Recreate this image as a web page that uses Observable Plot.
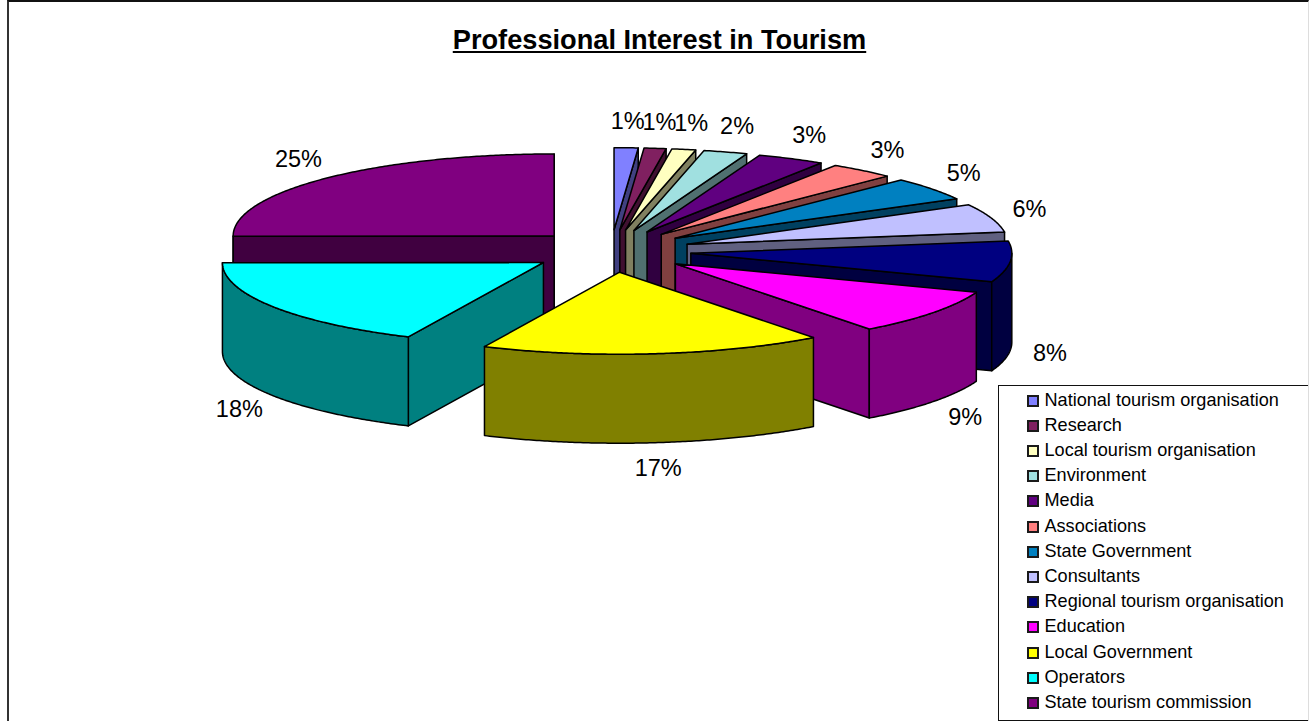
<!DOCTYPE html>
<html>
<head>
<meta charset="utf-8">
<script src="https://cdn.jsdelivr.net/npm/d3@7"></script>
<script src="https://cdn.jsdelivr.net/npm/@observablehq/plot@0.6"></script>
<style>
  html, body { margin: 0; padding: 0; background: #fff; overflow: hidden; }
  #page { position: relative; width: 1309px; height: 721px; font-family: "Liberation Sans", Arial, sans-serif; color: #000; overflow: hidden; }
  #page svg { position: absolute; left: 0; top: 0; display: block; background: transparent; }
  #frame { position: absolute; left: 7px; top: 0; width: 1302px; height: 721px; border-top: 2px solid #111; border-left: 2px solid #333; border-right: 1px solid #ddd; box-sizing: border-box; }
  #title { position: absolute; left: 0; width: 1319px; top: 24px; text-align: center; font-size: 27.2px; line-height: 31px; font-weight: bold; text-decoration: underline; }
  #legend { position: absolute; left: 998px; top: 385px; width: 310px; height: 336px; border: 1.5px solid #111; border-right: none; box-sizing: border-box; background: #fff; }
  .row { position: absolute; left: 0; height: 24px; line-height: 24px; font-size: 18.1px; white-space: nowrap; }
  .row i { position: absolute; left: 28px; top: 7px; width: 8px; height: 8px; border: 2px solid #1a1a1a; }
  .row span { position: absolute; left: 45.5px; }
</style>
</head>
<body>
<div id="page">
  <div id="frame"></div>
  <div id="title"></div>
  <div id="chart"></div>
  <div id="legend"></div>
</div>
<script>
const chartTitle = "Professional Interest in Tourism";
const categories = ["National tourism organisation","Research","Local tourism organisation","Environment","Media","Associations","State Government","Consultants","Regional tourism organisation","Education","Local Government","Operators","State tourism commission"];
const shares = [1.2,1.1,1.2,2.2,3.4,3.3,4.6,5.6,8,9,17.2,18,25];
const topColors = ["#8080FF","#802060","#FFFFC0","#A0E0E0","#600080","#FF8080","#0080C0","#C0C0FF","#000080","#FF00FF","#FFFF00","#00FFFF","#800080"];
const wallColors = ["#404080","#401030","#808060","#507070","#300040","#804040","#004060","#606080","#000040","#800080","#808000","#008080","#400040"];

// Pie layout in pixels, and the same in pie units through the x and y scales
const W = 1309, H = 721, cx = 610.5, cy = 250.5, rx = 321, ry = 82;
const explode = 0.25, depth = 89 / ry, labelGapX = 0.125, labelGapY = 0.32;

const rad = d => d * Math.PI / 180;
const total = d3.sum(shares);
let cum = 0;
const slices = shares.map((v, i) => {
  const a = cum / total * 360; cum += v;
  const b = cum / total * 360;
  const mid = (a + b) / 2;
  return {i, v, a, b, mid, ox: explode * Math.sin(rad(mid)), oy: (explode + 0.01) * Math.cos(rad(mid))};
});

function arcPts(s, from, to, h) {
  const n = Math.max(2, Math.ceil((to - from) * 2));
  return d3.range(n + 1).map(k => {
    const t = rad(from + (to - from) * k / n);
    return [s.ox + Math.sin(t), s.oy + Math.cos(t) - h];
  });
}

const polys = [];
let pid = 0;
function addPoly(pts, fill) {
  const id = pid++;
  [...pts, pts[0]].forEach(p => polys.push({x: p[0], y: p[1], z: id, fill}));
}
// back to front
[...slices].sort((p, q) => Math.cos(rad(q.mid)) - Math.cos(rad(p.mid))).forEach(s => {
  const wall = wallColors[s.i], apex = [s.ox, s.oy];
  const radial = t => {
    const e = [s.ox + Math.sin(rad(t)), s.oy + Math.cos(rad(t))];
    addPoly([apex, e, [e[0], e[1] - depth], [apex[0], apex[1] - depth]], wall);
  };
  if (s.b <= 180 || s.b >= 359) radial(s.b);
  if (s.a >= 180) radial(s.a);
  const f = Math.max(s.a, 90), t = Math.min(s.b, 270);
  if (t > f) addPoly([...arcPts(s, f, t, 0), ...arcPts(s, f, t, depth).reverse()], wall);
  addPoly([apex, ...arcPts(s, s.a, s.b, 0)], topColors[s.i]);
});

const labels = slices.map(s => {
  const u = s.ox + Math.sin(rad(s.mid)) * (1 + labelGapX);
  const w = s.oy + Math.cos(rad(s.mid)) * (1 + labelGapY);
  const lower = s.mid > 90 && s.mid < 270;
  return {x: u, y: lower ? w - depth : w, text: Math.round(s.v) + "%"};
});

const plot = Plot.plot({
  width: W, height: H, margin: 0,
  x: {domain: [-cx / rx, (W - cx) / rx], range: [0, W], axis: null},
  y: {domain: [cy / ry, (cy - H) / ry], range: [0, H], axis: null},
  style: {background: "transparent"},
  marks: [
    Plot.line(polys, {x: "x", y: "y", z: "z", fill: {value: "fill", scale: null}, stroke: "#000", strokeWidth: 1.5, curve: "linear", strokeLinejoin: "round"}),
    Plot.text(labels, {x: "x", y: "y", text: "text", fontSize: 23.5, fontFamily: "Liberation Sans, Arial, sans-serif", fill: "#000", textAnchor: "middle", lineAnchor: "middle"})
  ]
});
document.getElementById("chart").append(plot);

document.getElementById("title").textContent = chartTitle;
const legend = document.getElementById("legend");
categories.forEach((c, i) => {
  const row = document.createElement("div");
  row.className = "row";
  row.style.top = (1.5 + i * 25.2) + "px";
  row.innerHTML = `<i style="background:${topColors[i]}"></i><span>${c}</span>`;
  legend.append(row);
});
</script>
</body>
</html>
